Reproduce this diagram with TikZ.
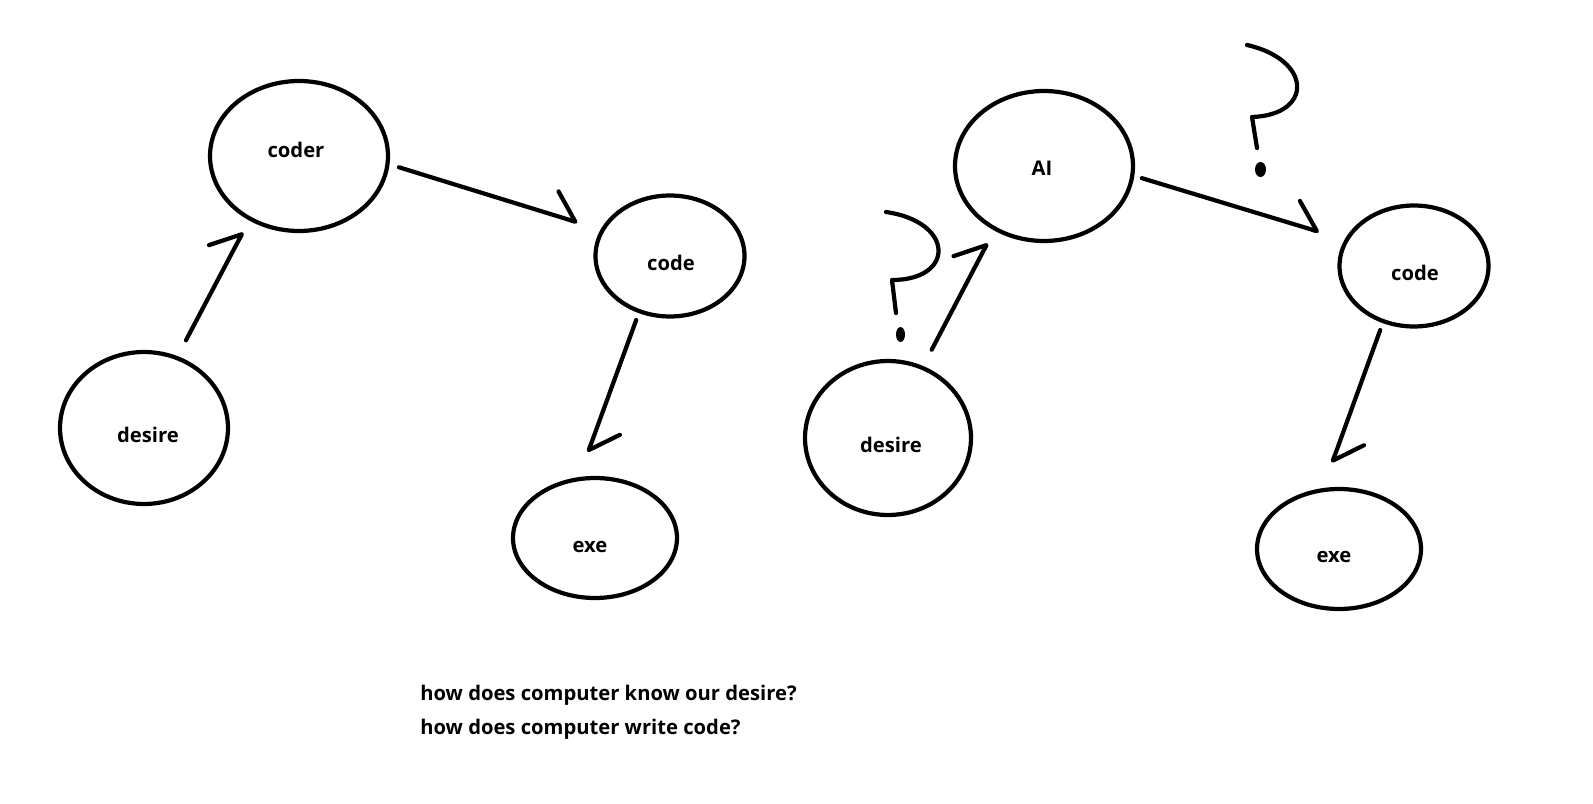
\documentclass[tikz,border=0pt]{standalone}
\usepackage{fontspec}
\setmainfont{Open Sans}
\usetikzlibrary{shapes.geometric,arrows.meta,positioning}

\begin{document}
\begin{tikzpicture}[
    x=0.02cm, y=-0.02cm,
    bubble/.style={draw, ellipse, line width=2.4pt, inner sep=0pt, outer sep=0pt},
    tag/.style={inner sep=0pt, font=\fontsize{11.5}{13}\selectfont\bfseries},
    arrow/.style={-{Straight Barb[harpoon, length=0.5cm, width=0.96cm, round]}, line width=2.4pt, line cap=round},
    scribble/.style={line width=2.4pt, line cap=round, line join=round},
    caption/.style={anchor=base west, inner sep=0pt, font=\fontsize{11.5}{13}\selectfont\bfseries}
]
    \useasboundingbox (0,0) rectangle (1593,804);

    % Nodes - coder side
    \node[bubble, minimum width=3.36cm, minimum height=3.04cm, label={[tag, shift={(4,7)}]center:desire}] (desire) at (144,428) {};
    \node[bubble, minimum width=3.56cm, minimum height=3cm, label={[tag, shift={(-3,-6)}]center:coder}] (coder) at (299,156) {};
    \node[bubble, minimum width=2.98cm, minimum height=2.42cm, label={[tag, shift={(1,7)}]center:code}] (code) at (670,256) {};
    \node[bubble, minimum width=3.28cm, minimum height=2.4cm, label={[tag, shift={(-5,9)}]center:exe}] (exe) at (595,538) {};

    % Nodes - AI side
    \node[bubble, minimum width=3.32cm, minimum height=3.08cm, label={[tag, shift={(3,7)}]center:desire}] (desire2) at (888,438) {};
    \node[bubble, minimum width=3.56cm, minimum height=3cm, label={[tag, shift={(-2,2)}]center:AI}] (ai) at (1044,166) {};
    \node[bubble, minimum width=2.98cm, minimum height=2.42cm, label={[tag, shift={(1,7)}]center:code}] (code2) at (1414,266) {};
    \node[bubble, minimum width=3.28cm, minimum height=2.4cm, label={[tag, shift={(-5,8)}]center:exe}] (exe2) at (1339,549) {};

    % Arrows - coder side
    \draw[arrow, shorten <=0.4cm, shorten >=0.31cm] (desire.65) -- (coder.-128.7);
    \draw[arrow, shorten <=0.24cm, shorten >=0.53cm] (coder.-5.9) -- (code.159.5);
    \draw[arrow, shorten <=0.19cm, shorten >=0.58cm] (code.-119) -- (exe.106);

    % Arrows - AI side
    \draw[arrow, shorten <=0.41cm, shorten >=0.33cm] (desire2.64.7) -- (ai.-128.3);
    \draw[arrow, shorten <=0.2cm, shorten >=0.58cm] (ai.-6.3) -- (code2.159.1);
    \draw[arrow, shorten <=0.19cm, shorten >=0.59cm] (code2.-119) -- (exe2.106);

    % Question marks
    \draw[scribble] (886,212) .. controls (955,222) and (955,280) .. (892,280) -- (896,313);
    \fill (900.5,334.5) ellipse [x radius=0.09cm, y radius=0.15cm];
    \draw[scribble] (1247,45) .. controls (1313,60) and (1313,115) .. (1252,117) -- (1257,148);
    \fill (1260.5,169.5) ellipse [x radius=0.11cm, y radius=0.15cm];

    % Questions
    \node[caption] (know) at (420,700) {how does computer know our desire?};
    \node[caption] (write) at (420,734) {how does computer write code?};
\end{tikzpicture}
\end{document}
